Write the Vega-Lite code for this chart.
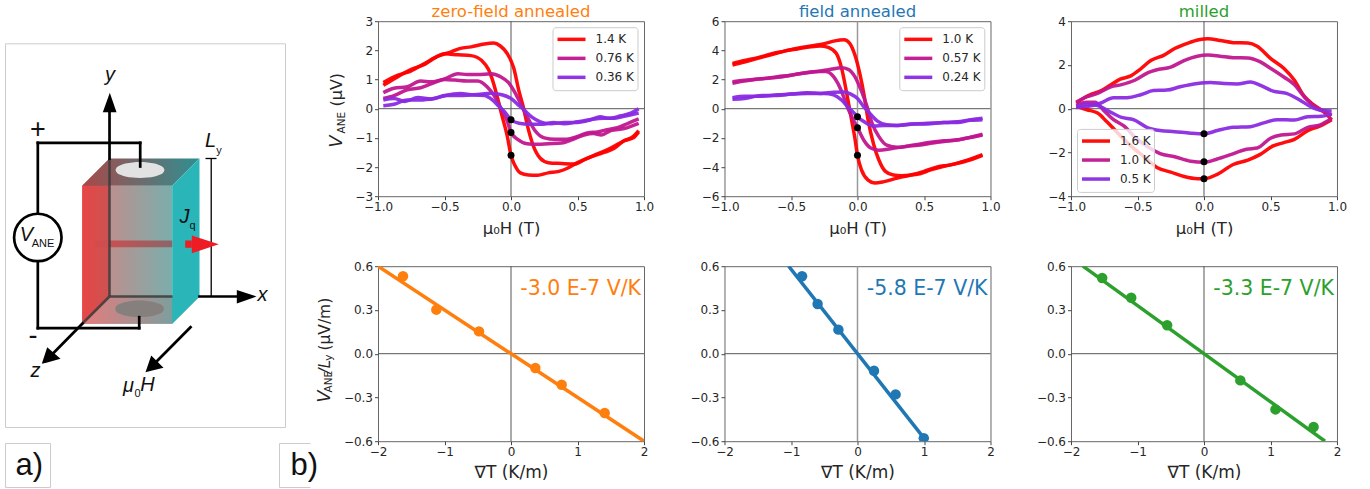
{"$schema":"https://vega.github.io/schema/vega-lite/v6.json","background":"white","padding":{"left":-1.5,"top":3.2,"right":0,"bottom":0},"config":{"font":"DejaVu Sans","axis":{"labelFont":"DejaVu Sans","labelFontSize":12,"labelColor":"#262626","labelFlush":false,"labelOverlap":false,"labelBound":false,"tickColor":"#444","tickSize":3.5,"tickWidth":1,"domain":false,"grid":false,"titleFont":"DejaVu Sans","titleFontWeight":"normal","titleFontSize":16.5,"titleColor":"#262626","titlePadding":8},"view":{"stroke":"#666","strokeWidth":1},"legend":{"labelFont":"DejaVu Sans","labelFontSize":12,"labelColor":"#262626"},"title":{"font":"DejaVu Sans","fontWeight":"normal","fontSize":16.5,"anchor":"middle","offset":-5}},
"datasets":{
"zero":[{"z":0}],
"frames":[{"x":6,"x2":286,"y":43.3,"y2":427},{"x":6,"x2":51,"y":443,"y2":487}],
"bbox":[{"x":280,"x2":311,"y":443,"y2":443},{"x":280,"x2":280,"y":443,"y2":487},{"x":280,"x2":311,"y":487,"y2":487}],
"front":[{"x":82.7,"x2":172.7,"y":185.3,"y2":323.3}],
"left":[{"x":82.7,"y":185.3,"y2":323.3},{"x":110,"y":158,"y2":296}],
"top":[{"x":82.7,"y":185.3,"y2":185.3},{"x":110,"y":158,"y2":185.3},{"x":172.7,"y":158,"y2":185.3},{"x":200,"y":158,"y2":158}],
"bottom":[{"x":82.7,"y":323.3,"y2":323.3},{"x":110,"y":296,"y2":323.3},{"x":172.7,"y":296,"y2":323.3},{"x":200,"y":296,"y2":296}],
"right":[{"x":172.7,"y":185.3,"y2":323.3},{"x":200,"y":158,"y2":296}],
"strip":[{"x":94.3,"x2":172.7,"y":240,"y2":246.7}],
"edges":[{"x":110,"y":158,"x2":110,"y2":296},{"x":110,"y":296,"x2":173,"y2":296},{"x":110,"y":296,"x2":83,"y2":323}],
"ewhite":[{"x":116,"y":169.5,"y2":169.5},{"x":117.2,"y":167,"y2":172},{"x":120.9,"y":164.7,"y2":174.3},{"x":125.8,"y":163.1,"y2":175.9},{"x":133.2,"y":161.9,"y2":177.1},{"x":140.5,"y":161.5,"y2":177.5},{"x":147.9,"y":161.9,"y2":177.1},{"x":155.2,"y":163.1,"y2":175.9},{"x":160.1,"y":164.7,"y2":174.3},{"x":163.8,"y":167,"y2":172},{"x":165,"y":169.5,"y2":169.5}],
"egrey":[{"x":115.5,"y":308.3,"y2":308.3},{"x":116.7,"y":305.7,"y2":310.9},{"x":120.4,"y":303.3,"y2":313.3},{"x":125.3,"y":301.7,"y2":314.9},{"x":132.7,"y":300.4,"y2":316.2},{"x":140,"y":300,"y2":316.6},{"x":147.4,"y":300.4,"y2":316.2},{"x":154.7,"y":301.7,"y2":314.9},{"x":159.6,"y":303.3,"y2":313.3},{"x":163.3,"y":305.7,"y2":310.9},{"x":164.5,"y":308.3,"y2":308.3}],
"wires":[{"x":38.3,"y":142.3,"x2":140.7,"y2":142.3},{"x":140.7,"y":142.3,"x2":140.7,"y2":166},{"x":38.3,"y":142.3,"x2":38.3,"y2":213},{"x":38.3,"y":261,"x2":38.3,"y2":327.7},{"x":38.3,"y":327.7,"x2":139.7,"y2":327.7},{"x":139.7,"y":327.7,"x2":139.7,"y2":316.7},{"x":110,"y":158,"x2":110,"y2":108},{"x":200,"y":296,"x2":240,"y2":296},{"x":83,"y":323,"x2":50,"y2":356.5},{"x":191,"y":326.7,"x2":155,"y2":363}],
"brack":[{"x":211.7,"y":158,"x2":211.7,"y2":296},{"x":206,"y":158,"x2":217,"y2":158}],
"heads":[{"id":"y","x":103.3,"y":111.7,"y2":111.7},{"id":"y","x":110.3,"y":92.3,"y2":111.7},{"id":"y","x":117,"y":111.7,"y2":111.7},{"id":"x","x":237.3,"y":289.5,"y2":303},{"id":"x","x":257,"y":296,"y2":296},{"id":"z","x":42.3,"y":363.3,"y2":363.3},{"id":"z","x":47.7,"y":346.7,"y2":361.9},{"id":"z","x":61,"y":358.3,"y2":358.3},{"id":"h","x":146,"y":371.7,"y2":371.7},{"id":"h","x":151.7,"y":355,"y2":370.3},{"id":"h","x":164,"y":367.3,"y2":367.3}],
"rhead":[{"x":192.3,"y":235,"y2":252.7},{"x":219.3,"y":243.7,"y2":243.7}],
"rshaft":[{"x":185.7,"x2":192.3,"y":240,"y2":247.3}],
"volt":[{"x":38.3,"y":237}],
"tital":[{"x":110.5,"y":75,"t":"y"},{"x":263,"y":295,"t":"x"},{"x":36,"y":371,"t":"z"},{"x":27,"y":235,"t":"V"},{"x":185,"y":217,"t":"J"},{"x":211,"y":141,"t":"L"},{"x":129,"y":386,"t":"μ"},{"x":148,"y":385,"t":"H"}],
"tsub":[{"x":43.5,"y":243.5,"t":"ANE"},{"x":219.5,"y":151,"t":"y"},{"x":193,"y":226,"t":"q"},{"x":138,"y":393.5,"t":"0"}],
"tsign":[{"x":38.3,"y":130,"t":"+"},{"x":33.5,"y":336,"t":"-"}],
"tlab":[{"x":16,"y":475,"t":"a)"},{"x":291,"y":475,"t":"b)"}],
"d1":[
{"T":"1.4 K","b":"a","H":-0.96,"V":0.9},{"T":"1.4 K","b":"a","H":-0.85,"V":1.15},{"T":"1.4 K","b":"a","H":-0.75,"V":1.3},{"T":"1.4 K","b":"a","H":-0.65,"V":1.55},{"T":"1.4 K","b":"a","H":-0.55,"V":1.8},{"T":"1.4 K","b":"a","H":-0.45,"V":1.95},{"T":"1.4 K","b":"a","H":-0.38,"V":2.07},{"T":"1.4 K","b":"a","H":-0.3,"V":2.12},{"T":"1.4 K","b":"a","H":-0.2,"V":2.22},{"T":"1.4 K","b":"a","H":-0.13,"V":2.25},{"T":"1.4 K","b":"a","H":-0.08,"V":2.15},{"T":"1.4 K","b":"a","H":-0.03,"V":1.9},{"T":"1.4 K","b":"a","H":0.02,"V":1.4},{"T":"1.4 K","b":"a","H":0.06,"V":0.6},{"T":"1.4 K","b":"a","H":0.09,"V":0.1},{"T":"1.4 K","b":"a","H":0.13,"V":-0.7},{"T":"1.4 K","b":"a","H":0.17,"V":-1.3},{"T":"1.4 K","b":"a","H":0.22,"V":-1.7},{"T":"1.4 K","b":"a","H":0.28,"V":-1.85},{"T":"1.4 K","b":"a","H":0.38,"V":-1.88},{"T":"1.4 K","b":"a","H":0.48,"V":-1.9},{"T":"1.4 K","b":"a","H":0.55,"V":-1.75},{"T":"1.4 K","b":"a","H":0.65,"V":-1.55},{"T":"1.4 K","b":"a","H":0.75,"V":-1.35},{"T":"1.4 K","b":"a","H":0.85,"V":-1.1},{"T":"1.4 K","b":"a","H":0.92,"V":-0.95},{"T":"1.4 K","b":"a","H":0.96,"V":-0.75},
{"T":"1.4 K","b":"b","H":-0.96,"V":0.8},{"T":"1.4 K","b":"b","H":-0.85,"V":1.1},{"T":"1.4 K","b":"b","H":-0.75,"V":1.35},{"T":"1.4 K","b":"b","H":-0.65,"V":1.52},{"T":"1.4 K","b":"b","H":-0.57,"V":1.75},{"T":"1.4 K","b":"b","H":-0.5,"V":1.88},{"T":"1.4 K","b":"b","H":-0.4,"V":1.85},{"T":"1.4 K","b":"b","H":-0.3,"V":1.82},{"T":"1.4 K","b":"b","H":-0.22,"V":1.65},{"T":"1.4 K","b":"b","H":-0.17,"V":1.35},{"T":"1.4 K","b":"b","H":-0.13,"V":0.85},{"T":"1.4 K","b":"b","H":-0.1,"V":0.35},{"T":"1.4 K","b":"b","H":-0.07,"V":-0.2},{"T":"1.4 K","b":"b","H":-0.03,"V":-0.9},{"T":"1.4 K","b":"b","H":0,"V":-1.6},{"T":"1.4 K","b":"b","H":0.03,"V":-1.95},{"T":"1.4 K","b":"b","H":0.07,"V":-2.2},{"T":"1.4 K","b":"b","H":0.13,"V":-2.27},{"T":"1.4 K","b":"b","H":0.2,"V":-2.28},{"T":"1.4 K","b":"b","H":0.28,"V":-2.2},{"T":"1.4 K","b":"b","H":0.36,"V":-2.15},{"T":"1.4 K","b":"b","H":0.42,"V":-2.05},{"T":"1.4 K","b":"b","H":0.5,"V":-1.85},{"T":"1.4 K","b":"b","H":0.6,"V":-1.65},{"T":"1.4 K","b":"b","H":0.7,"V":-1.5},{"T":"1.4 K","b":"b","H":0.78,"V":-1.35},{"T":"1.4 K","b":"b","H":0.85,"V":-1.1},{"T":"1.4 K","b":"b","H":0.92,"V":-1.0},{"T":"1.4 K","b":"b","H":0.96,"V":-0.8},
{"T":"0.76 K","b":"a","H":-0.96,"V":0.55},{"T":"0.76 K","b":"a","H":-0.88,"V":0.7},{"T":"0.76 K","b":"a","H":-0.78,"V":0.75},{"T":"0.76 K","b":"a","H":-0.68,"V":0.95},{"T":"0.76 K","b":"a","H":-0.6,"V":0.92},{"T":"0.76 K","b":"a","H":-0.5,"V":1.02},{"T":"0.76 K","b":"a","H":-0.4,"V":1.2},{"T":"0.76 K","b":"a","H":-0.33,"V":1.17},{"T":"0.76 K","b":"a","H":-0.25,"V":1.17},{"T":"0.76 K","b":"a","H":-0.15,"V":1.2},{"T":"0.76 K","b":"a","H":-0.08,"V":1.1},{"T":"0.76 K","b":"a","H":-0.02,"V":0.9},{"T":"0.76 K","b":"a","H":0.03,"V":0.55},{"T":"0.76 K","b":"a","H":0.08,"V":0.1},{"T":"0.76 K","b":"a","H":0.13,"V":-0.35},{"T":"0.76 K","b":"a","H":0.18,"V":-0.75},{"T":"0.76 K","b":"a","H":0.25,"V":-1.0},{"T":"0.76 K","b":"a","H":0.33,"V":-1.05},{"T":"0.76 K","b":"a","H":0.42,"V":-1.05},{"T":"0.76 K","b":"a","H":0.5,"V":-0.95},{"T":"0.76 K","b":"a","H":0.58,"V":-0.82},{"T":"0.76 K","b":"a","H":0.65,"V":-0.8},{"T":"0.76 K","b":"a","H":0.72,"V":-0.72},{"T":"0.76 K","b":"a","H":0.8,"V":-0.65},{"T":"0.76 K","b":"a","H":0.88,"V":-0.5},{"T":"0.76 K","b":"a","H":0.96,"V":-0.35},
{"T":"0.76 K","b":"b","H":-0.96,"V":0.35},{"T":"0.76 K","b":"b","H":-0.88,"V":0.45},{"T":"0.76 K","b":"b","H":-0.78,"V":0.65},{"T":"0.76 K","b":"b","H":-0.68,"V":0.72},{"T":"0.76 K","b":"b","H":-0.6,"V":0.85},{"T":"0.76 K","b":"b","H":-0.5,"V":1.0},{"T":"0.76 K","b":"b","H":-0.42,"V":0.98},{"T":"0.76 K","b":"b","H":-0.33,"V":0.95},{"T":"0.76 K","b":"b","H":-0.25,"V":0.95},{"T":"0.76 K","b":"b","H":-0.18,"V":0.75},{"T":"0.76 K","b":"b","H":-0.12,"V":0.4},{"T":"0.76 K","b":"b","H":-0.08,"V":0.05},{"T":"0.76 K","b":"b","H":-0.03,"V":-0.4},{"T":"0.76 K","b":"b","H":0,"V":-0.82},{"T":"0.76 K","b":"b","H":0.05,"V":-1.05},{"T":"0.76 K","b":"b","H":0.12,"V":-1.2},{"T":"0.76 K","b":"b","H":0.2,"V":-1.22},{"T":"0.76 K","b":"b","H":0.28,"V":-1.2},{"T":"0.76 K","b":"b","H":0.38,"V":-1.18},{"T":"0.76 K","b":"b","H":0.45,"V":-1.08},{"T":"0.76 K","b":"b","H":0.55,"V":-0.9},{"T":"0.76 K","b":"b","H":0.62,"V":-0.85},{"T":"0.76 K","b":"b","H":0.68,"V":-0.9},{"T":"0.76 K","b":"b","H":0.75,"V":-0.75},{"T":"0.76 K","b":"b","H":0.85,"V":-0.68},{"T":"0.76 K","b":"b","H":0.96,"V":-0.5},
{"T":"0.36 K","b":"a","H":-0.96,"V":0.3},{"T":"0.36 K","b":"a","H":-0.88,"V":0.35},{"T":"0.36 K","b":"a","H":-0.8,"V":0.25},{"T":"0.36 K","b":"a","H":-0.7,"V":0.38},{"T":"0.36 K","b":"a","H":-0.6,"V":0.33},{"T":"0.36 K","b":"a","H":-0.5,"V":0.45},{"T":"0.36 K","b":"a","H":-0.38,"V":0.52},{"T":"0.36 K","b":"a","H":-0.28,"V":0.48},{"T":"0.36 K","b":"a","H":-0.15,"V":0.53},{"T":"0.36 K","b":"a","H":-0.07,"V":0.48},{"T":"0.36 K","b":"a","H":0,"V":0.35},{"T":"0.36 K","b":"a","H":0.05,"V":0.15},{"T":"0.36 K","b":"a","H":0.1,"V":-0.05},{"T":"0.36 K","b":"a","H":0.16,"V":-0.3},{"T":"0.36 K","b":"a","H":0.22,"V":-0.45},{"T":"0.36 K","b":"a","H":0.3,"V":-0.52},{"T":"0.36 K","b":"a","H":0.4,"V":-0.47},{"T":"0.36 K","b":"a","H":0.5,"V":-0.47},{"T":"0.36 K","b":"a","H":0.6,"V":-0.38},{"T":"0.36 K","b":"a","H":0.67,"V":-0.28},{"T":"0.36 K","b":"a","H":0.74,"V":-0.33},{"T":"0.36 K","b":"a","H":0.82,"V":-0.25},{"T":"0.36 K","b":"a","H":0.9,"V":-0.15},{"T":"0.36 K","b":"a","H":0.96,"V":0.0},
{"T":"0.36 K","b":"b","H":-0.96,"V":0.1},{"T":"0.36 K","b":"b","H":-0.88,"V":0.15},{"T":"0.36 K","b":"b","H":-0.78,"V":0.3},{"T":"0.36 K","b":"b","H":-0.68,"V":0.3},{"T":"0.36 K","b":"b","H":-0.58,"V":0.35},{"T":"0.36 K","b":"b","H":-0.48,"V":0.45},{"T":"0.36 K","b":"b","H":-0.38,"V":0.45},{"T":"0.36 K","b":"b","H":-0.28,"V":0.47},{"T":"0.36 K","b":"b","H":-0.2,"V":0.45},{"T":"0.36 K","b":"b","H":-0.14,"V":0.3},{"T":"0.36 K","b":"b","H":-0.09,"V":0.08},{"T":"0.36 K","b":"b","H":-0.04,"V":-0.15},{"T":"0.36 K","b":"b","H":0,"V":-0.38},{"T":"0.36 K","b":"b","H":0.06,"V":-0.5},{"T":"0.36 K","b":"b","H":0.14,"V":-0.53},{"T":"0.36 K","b":"b","H":0.24,"V":-0.53},{"T":"0.36 K","b":"b","H":0.32,"V":-0.47},{"T":"0.36 K","b":"b","H":0.4,"V":-0.52},{"T":"0.36 K","b":"b","H":0.5,"V":-0.45},{"T":"0.36 K","b":"b","H":0.6,"V":-0.37},{"T":"0.36 K","b":"b","H":0.7,"V":-0.33},{"T":"0.36 K","b":"b","H":0.78,"V":-0.33},{"T":"0.36 K","b":"b","H":0.86,"V":-0.25},{"T":"0.36 K","b":"b","H":0.96,"V":-0.15}],
"dots1":[{"H":0,"V":-0.38},{"H":0,"V":-0.82},{"H":0,"V":-1.6}],
"d2":[
{"T":"1.0 K","b":"a","H":-0.94,"V":3.1},{"T":"1.0 K","b":"a","H":-0.85,"V":3.3},{"T":"1.0 K","b":"a","H":-0.75,"V":3.5},{"T":"1.0 K","b":"a","H":-0.65,"V":3.75},{"T":"1.0 K","b":"a","H":-0.55,"V":3.95},{"T":"1.0 K","b":"a","H":-0.45,"V":4.15},{"T":"1.0 K","b":"a","H":-0.35,"V":4.3},{"T":"1.0 K","b":"a","H":-0.25,"V":4.45},{"T":"1.0 K","b":"a","H":-0.17,"V":4.65},{"T":"1.0 K","b":"a","H":-0.1,"V":4.72},{"T":"1.0 K","b":"a","H":-0.06,"V":4.5},{"T":"1.0 K","b":"a","H":-0.02,"V":3.7},{"T":"1.0 K","b":"a","H":0.02,"V":2.3},{"T":"1.0 K","b":"a","H":0.05,"V":0.9},{"T":"1.0 K","b":"a","H":0.08,"V":-0.8},{"T":"1.0 K","b":"a","H":0.12,"V":-2.4},{"T":"1.0 K","b":"a","H":0.16,"V":-3.5},{"T":"1.0 K","b":"a","H":0.21,"V":-4.3},{"T":"1.0 K","b":"a","H":0.27,"V":-4.55},{"T":"1.0 K","b":"a","H":0.33,"V":-4.6},{"T":"1.0 K","b":"a","H":0.45,"V":-4.5},{"T":"1.0 K","b":"a","H":0.55,"V":-4.2},{"T":"1.0 K","b":"a","H":0.65,"V":-3.95},{"T":"1.0 K","b":"a","H":0.75,"V":-3.75},{"T":"1.0 K","b":"a","H":0.85,"V":-3.5},{"T":"1.0 K","b":"a","H":0.94,"V":-3.2},
{"T":"1.0 K","b":"b","H":-0.94,"V":3.0},{"T":"1.0 K","b":"b","H":-0.85,"V":3.2},{"T":"1.0 K","b":"b","H":-0.75,"V":3.45},{"T":"1.0 K","b":"b","H":-0.65,"V":3.7},{"T":"1.0 K","b":"b","H":-0.55,"V":3.95},{"T":"1.0 K","b":"b","H":-0.45,"V":4.1},{"T":"1.0 K","b":"b","H":-0.35,"V":4.25},{"T":"1.0 K","b":"b","H":-0.28,"V":4.3},{"T":"1.0 K","b":"b","H":-0.22,"V":4.2},{"T":"1.0 K","b":"b","H":-0.16,"V":3.8},{"T":"1.0 K","b":"b","H":-0.12,"V":2.8},{"T":"1.0 K","b":"b","H":-0.08,"V":1.0},{"T":"1.0 K","b":"b","H":-0.05,"V":-0.5},{"T":"1.0 K","b":"b","H":-0.02,"V":-2},{"T":"1.0 K","b":"b","H":0,"V":-3.2},{"T":"1.0 K","b":"b","H":0.03,"V":-4.2},{"T":"1.0 K","b":"b","H":0.08,"V":-4.9},{"T":"1.0 K","b":"b","H":0.13,"V":-5.1},{"T":"1.0 K","b":"b","H":0.2,"V":-5.0},{"T":"1.0 K","b":"b","H":0.3,"V":-4.75},{"T":"1.0 K","b":"b","H":0.4,"V":-4.55},{"T":"1.0 K","b":"b","H":0.5,"V":-4.3},{"T":"1.0 K","b":"b","H":0.6,"V":-4.0},{"T":"1.0 K","b":"b","H":0.7,"V":-3.85},{"T":"1.0 K","b":"b","H":0.8,"V":-3.6},{"T":"1.0 K","b":"b","H":0.94,"V":-3.15},
{"T":"0.57 K","b":"a","H":-0.94,"V":1.85},{"T":"0.57 K","b":"a","H":-0.85,"V":1.95},{"T":"0.57 K","b":"a","H":-0.72,"V":2.05},{"T":"0.57 K","b":"a","H":-0.6,"V":2.2},{"T":"0.57 K","b":"a","H":-0.5,"V":2.3},{"T":"0.57 K","b":"a","H":-0.4,"V":2.45},{"T":"0.57 K","b":"a","H":-0.3,"V":2.55},{"T":"0.57 K","b":"a","H":-0.2,"V":2.7},{"T":"0.57 K","b":"a","H":-0.12,"V":2.8},{"T":"0.57 K","b":"a","H":-0.07,"V":2.7},{"T":"0.57 K","b":"a","H":-0.02,"V":2.2},{"T":"0.57 K","b":"a","H":0.03,"V":1.2},{"T":"0.57 K","b":"a","H":0.07,"V":0.2},{"T":"0.57 K","b":"a","H":0.11,"V":-1},{"T":"0.57 K","b":"a","H":0.16,"V":-1.9},{"T":"0.57 K","b":"a","H":0.22,"V":-2.5},{"T":"0.57 K","b":"a","H":0.3,"V":-2.65},{"T":"0.57 K","b":"a","H":0.4,"V":-2.55},{"T":"0.57 K","b":"a","H":0.5,"V":-2.45},{"T":"0.57 K","b":"a","H":0.6,"V":-2.3},{"T":"0.57 K","b":"a","H":0.7,"V":-2.2},{"T":"0.57 K","b":"a","H":0.8,"V":-2.05},{"T":"0.57 K","b":"a","H":0.94,"V":-1.8},
{"T":"0.57 K","b":"b","H":-0.94,"V":1.75},{"T":"0.57 K","b":"b","H":-0.85,"V":1.9},{"T":"0.57 K","b":"b","H":-0.72,"V":2.05},{"T":"0.57 K","b":"b","H":-0.6,"V":2.15},{"T":"0.57 K","b":"b","H":-0.5,"V":2.3},{"T":"0.57 K","b":"b","H":-0.4,"V":2.45},{"T":"0.57 K","b":"b","H":-0.3,"V":2.55},{"T":"0.57 K","b":"b","H":-0.24,"V":2.55},{"T":"0.57 K","b":"b","H":-0.18,"V":2.2},{"T":"0.57 K","b":"b","H":-0.12,"V":1.2},{"T":"0.57 K","b":"b","H":-0.08,"V":0.2},{"T":"0.57 K","b":"b","H":-0.04,"V":-0.6},{"T":"0.57 K","b":"b","H":0,"V":-1.3},{"T":"0.57 K","b":"b","H":0.05,"V":-2.2},{"T":"0.57 K","b":"b","H":0.1,"V":-2.7},{"T":"0.57 K","b":"b","H":0.16,"V":-2.85},{"T":"0.57 K","b":"b","H":0.25,"V":-2.75},{"T":"0.57 K","b":"b","H":0.35,"V":-2.6},{"T":"0.57 K","b":"b","H":0.45,"V":-2.45},{"T":"0.57 K","b":"b","H":0.55,"V":-2.3},{"T":"0.57 K","b":"b","H":0.65,"V":-2.2},{"T":"0.57 K","b":"b","H":0.75,"V":-2.15},{"T":"0.57 K","b":"b","H":0.85,"V":-1.95},{"T":"0.57 K","b":"b","H":0.94,"V":-1.75},
{"T":"0.24 K","b":"a","H":-0.94,"V":0.75},{"T":"0.24 K","b":"a","H":-0.85,"V":0.85},{"T":"0.24 K","b":"a","H":-0.72,"V":0.85},{"T":"0.24 K","b":"a","H":-0.6,"V":0.95},{"T":"0.24 K","b":"a","H":-0.5,"V":1.0},{"T":"0.24 K","b":"a","H":-0.38,"V":1.1},{"T":"0.24 K","b":"a","H":-0.28,"V":1.05},{"T":"0.24 K","b":"a","H":-0.18,"V":1.13},{"T":"0.24 K","b":"a","H":-0.1,"V":1.15},{"T":"0.24 K","b":"a","H":-0.05,"V":1.0},{"T":"0.24 K","b":"a","H":0,"V":0.7},{"T":"0.24 K","b":"a","H":0.05,"V":0.1},{"T":"0.24 K","b":"a","H":0.1,"V":-0.4},{"T":"0.24 K","b":"a","H":0.15,"V":-0.85},{"T":"0.24 K","b":"a","H":0.22,"V":-1.1},{"T":"0.24 K","b":"a","H":0.3,"V":-1.15},{"T":"0.24 K","b":"a","H":0.42,"V":-1.05},{"T":"0.24 K","b":"a","H":0.52,"V":-1.0},{"T":"0.24 K","b":"a","H":0.65,"V":-0.95},{"T":"0.24 K","b":"a","H":0.75,"V":-0.9},{"T":"0.24 K","b":"a","H":0.85,"V":-0.75},{"T":"0.24 K","b":"a","H":0.94,"V":-0.65},
{"T":"0.24 K","b":"b","H":-0.94,"V":0.65},{"T":"0.24 K","b":"b","H":-0.85,"V":0.7},{"T":"0.24 K","b":"b","H":-0.72,"V":0.9},{"T":"0.24 K","b":"b","H":-0.6,"V":0.9},{"T":"0.24 K","b":"b","H":-0.5,"V":1.0},{"T":"0.24 K","b":"b","H":-0.38,"V":1.05},{"T":"0.24 K","b":"b","H":-0.25,"V":1.05},{"T":"0.24 K","b":"b","H":-0.18,"V":0.95},{"T":"0.24 K","b":"b","H":-0.12,"V":0.6},{"T":"0.24 K","b":"b","H":-0.07,"V":0.1},{"T":"0.24 K","b":"b","H":-0.03,"V":-0.25},{"T":"0.24 K","b":"b","H":0,"V":-0.55},{"T":"0.24 K","b":"b","H":0.05,"V":-0.9},{"T":"0.24 K","b":"b","H":0.12,"V":-1.2},{"T":"0.24 K","b":"b","H":0.2,"V":-1.15},{"T":"0.24 K","b":"b","H":0.3,"V":-1.15},{"T":"0.24 K","b":"b","H":0.4,"V":-1.05},{"T":"0.24 K","b":"b","H":0.52,"V":-1.05},{"T":"0.24 K","b":"b","H":0.65,"V":-0.95},{"T":"0.24 K","b":"b","H":0.75,"V":-0.95},{"T":"0.24 K","b":"b","H":0.85,"V":-0.8},{"T":"0.24 K","b":"b","H":0.94,"V":-0.75}],
"dots2":[{"H":0,"V":-0.55},{"H":0,"V":-1.3},{"H":0,"V":-3.2}],
"d3":[
{"T":"1.6 K","b":"a","H":-0.96,"V":0.25},{"T":"1.6 K","b":"a","H":-0.9,"V":0.5},{"T":"1.6 K","b":"a","H":-0.85,"V":0.65},{"T":"1.6 K","b":"a","H":-0.78,"V":0.8},{"T":"1.6 K","b":"a","H":-0.7,"V":1.1},{"T":"1.6 K","b":"a","H":-0.63,"V":1.35},{"T":"1.6 K","b":"a","H":-0.55,"V":1.5},{"T":"1.6 K","b":"a","H":-0.48,"V":1.8},{"T":"1.6 K","b":"a","H":-0.4,"V":2.2},{"T":"1.6 K","b":"a","H":-0.3,"V":2.45},{"T":"1.6 K","b":"a","H":-0.22,"V":2.75},{"T":"1.6 K","b":"a","H":-0.12,"V":3.0},{"T":"1.6 K","b":"a","H":-0.04,"V":3.15},{"T":"1.6 K","b":"a","H":0.03,"V":3.2},{"T":"1.6 K","b":"a","H":0.12,"V":3.12},{"T":"1.6 K","b":"a","H":0.22,"V":3.02},{"T":"1.6 K","b":"a","H":0.33,"V":3.0},{"T":"1.6 K","b":"a","H":0.4,"V":2.85},{"T":"1.6 K","b":"a","H":0.5,"V":2.3},{"T":"1.6 K","b":"a","H":0.6,"V":1.85},{"T":"1.6 K","b":"a","H":0.68,"V":1.3},{"T":"1.6 K","b":"a","H":0.75,"V":0.6},{"T":"1.6 K","b":"a","H":0.82,"V":0.2},{"T":"1.6 K","b":"a","H":0.9,"V":-0.15},{"T":"1.6 K","b":"a","H":0.96,"V":-0.5},
{"T":"1.6 K","b":"b","H":-0.96,"V":0.1},{"T":"1.6 K","b":"b","H":-0.88,"V":-0.05},{"T":"1.6 K","b":"b","H":-0.8,"V":-0.2},{"T":"1.6 K","b":"b","H":-0.73,"V":-0.6},{"T":"1.6 K","b":"b","H":-0.65,"V":-1.1},{"T":"1.6 K","b":"b","H":-0.55,"V":-1.7},{"T":"1.6 K","b":"b","H":-0.45,"V":-2.2},{"T":"1.6 K","b":"b","H":-0.35,"V":-2.7},{"T":"1.6 K","b":"b","H":-0.25,"V":-2.9},{"T":"1.6 K","b":"b","H":-0.15,"V":-3.1},{"T":"1.6 K","b":"b","H":-0.05,"V":-3.2},{"T":"1.6 K","b":"b","H":0,"V":-3.2},{"T":"1.6 K","b":"b","H":0.1,"V":-3.0},{"T":"1.6 K","b":"b","H":0.22,"V":-2.55},{"T":"1.6 K","b":"b","H":0.33,"V":-2.35},{"T":"1.6 K","b":"b","H":0.42,"V":-2.1},{"T":"1.6 K","b":"b","H":0.52,"V":-1.7},{"T":"1.6 K","b":"b","H":0.6,"V":-1.55},{"T":"1.6 K","b":"b","H":0.68,"V":-1.4},{"T":"1.6 K","b":"b","H":0.78,"V":-1.0},{"T":"1.6 K","b":"b","H":0.87,"V":-0.8},{"T":"1.6 K","b":"b","H":0.96,"V":-0.5},
{"T":"1.0 K","b":"a","H":-0.96,"V":0.3},{"T":"1.0 K","b":"a","H":-0.88,"V":0.55},{"T":"1.0 K","b":"a","H":-0.8,"V":0.7},{"T":"1.0 K","b":"a","H":-0.7,"V":1.0},{"T":"1.0 K","b":"a","H":-0.62,"V":1.1},{"T":"1.0 K","b":"a","H":-0.52,"V":1.3},{"T":"1.0 K","b":"a","H":-0.42,"V":1.65},{"T":"1.0 K","b":"a","H":-0.36,"V":1.77},{"T":"1.0 K","b":"a","H":-0.25,"V":1.9},{"T":"1.0 K","b":"a","H":-0.15,"V":2.2},{"T":"1.0 K","b":"a","H":-0.05,"V":2.4},{"T":"1.0 K","b":"a","H":0.03,"V":2.45},{"T":"1.0 K","b":"a","H":0.12,"V":2.4},{"T":"1.0 K","b":"a","H":0.22,"V":2.33},{"T":"1.0 K","b":"a","H":0.33,"V":2.32},{"T":"1.0 K","b":"a","H":0.42,"V":2.15},{"T":"1.0 K","b":"a","H":0.5,"V":1.85},{"T":"1.0 K","b":"a","H":0.6,"V":1.45},{"T":"1.0 K","b":"a","H":0.68,"V":1.1},{"T":"1.0 K","b":"a","H":0.76,"V":0.5},{"T":"1.0 K","b":"a","H":0.83,"V":0.1},{"T":"1.0 K","b":"a","H":0.9,"V":-0.1},{"T":"1.0 K","b":"a","H":0.96,"V":-0.3},
{"T":"1.0 K","b":"b","H":-0.96,"V":0.15},{"T":"1.0 K","b":"b","H":-0.88,"V":0.3},{"T":"1.0 K","b":"b","H":-0.82,"V":0.3},{"T":"1.0 K","b":"b","H":-0.75,"V":-0.1},{"T":"1.0 K","b":"b","H":-0.68,"V":-0.5},{"T":"1.0 K","b":"b","H":-0.6,"V":-0.8},{"T":"1.0 K","b":"b","H":-0.52,"V":-1.3},{"T":"1.0 K","b":"b","H":-0.42,"V":-1.75},{"T":"1.0 K","b":"b","H":-0.33,"V":-2.05},{"T":"1.0 K","b":"b","H":-0.22,"V":-2.2},{"T":"1.0 K","b":"b","H":-0.1,"V":-2.4},{"T":"1.0 K","b":"b","H":0,"V":-2.45},{"T":"1.0 K","b":"b","H":0.1,"V":-2.3},{"T":"1.0 K","b":"b","H":0.2,"V":-2.1},{"T":"1.0 K","b":"b","H":0.32,"V":-1.85},{"T":"1.0 K","b":"b","H":0.4,"V":-1.8},{"T":"1.0 K","b":"b","H":0.5,"V":-1.35},{"T":"1.0 K","b":"b","H":0.58,"V":-1.2},{"T":"1.0 K","b":"b","H":0.68,"V":-1.15},{"T":"1.0 K","b":"b","H":0.78,"V":-0.85},{"T":"1.0 K","b":"b","H":0.87,"V":-0.75},{"T":"1.0 K","b":"b","H":0.96,"V":-0.45},
{"T":"0.5 K","b":"a","H":-0.96,"V":0.05},{"T":"0.5 K","b":"a","H":-0.88,"V":0.1},{"T":"0.5 K","b":"a","H":-0.78,"V":0.25},{"T":"0.5 K","b":"a","H":-0.68,"V":0.5},{"T":"0.5 K","b":"a","H":-0.58,"V":0.5},{"T":"0.5 K","b":"a","H":-0.47,"V":0.65},{"T":"0.5 K","b":"a","H":-0.38,"V":0.83},{"T":"0.5 K","b":"a","H":-0.28,"V":0.85},{"T":"0.5 K","b":"a","H":-0.18,"V":1.0},{"T":"0.5 K","b":"a","H":-0.05,"V":1.15},{"T":"0.5 K","b":"a","H":0.05,"V":1.2},{"T":"0.5 K","b":"a","H":0.15,"V":1.15},{"T":"0.5 K","b":"a","H":0.25,"V":1.13},{"T":"0.5 K","b":"a","H":0.35,"V":1.22},{"T":"0.5 K","b":"a","H":0.43,"V":1.05},{"T":"0.5 K","b":"a","H":0.52,"V":0.8},{"T":"0.5 K","b":"a","H":0.62,"V":0.7},{"T":"0.5 K","b":"a","H":0.72,"V":0.4},{"T":"0.5 K","b":"a","H":0.8,"V":0.1},{"T":"0.5 K","b":"a","H":0.88,"V":-0.08},{"T":"0.5 K","b":"a","H":0.96,"V":-0.1},
{"T":"0.5 K","b":"b","H":-0.96,"V":0.1},{"T":"0.5 K","b":"b","H":-0.88,"V":0.2},{"T":"0.5 K","b":"b","H":-0.8,"V":0.15},{"T":"0.5 K","b":"b","H":-0.72,"V":-0.1},{"T":"0.5 K","b":"b","H":-0.62,"V":-0.4},{"T":"0.5 K","b":"b","H":-0.53,"V":-0.5},{"T":"0.5 K","b":"b","H":-0.43,"V":-0.85},{"T":"0.5 K","b":"b","H":-0.33,"V":-1.0},{"T":"0.5 K","b":"b","H":-0.22,"V":-1.05},{"T":"0.5 K","b":"b","H":-0.1,"V":-1.12},{"T":"0.5 K","b":"b","H":0,"V":-1.15},{"T":"0.5 K","b":"b","H":0.1,"V":-1.0},{"T":"0.5 K","b":"b","H":0.22,"V":-0.85},{"T":"0.5 K","b":"b","H":0.35,"V":-0.82},{"T":"0.5 K","b":"b","H":0.45,"V":-0.65},{"T":"0.5 K","b":"b","H":0.55,"V":-0.5},{"T":"0.5 K","b":"b","H":0.68,"V":-0.52},{"T":"0.5 K","b":"b","H":0.78,"V":-0.37},{"T":"0.5 K","b":"b","H":0.88,"V":-0.35},{"T":"0.5 K","b":"b","H":0.96,"V":-0.25}],
"dots3":[{"H":0,"V":-1.15},{"H":0,"V":-2.42},{"H":0,"V":-3.2}],
"f1":[{"G":-2,"E":0.6},{"G":2,"E":-0.6}],
"s1":[{"G":-1.624,"E":0.531},{"G":-1.123,"E":0.302},{"G":-0.481,"E":0.153},{"G":0.366,"E":-0.098},{"G":0.762,"E":-0.213},{"G":1.409,"E":-0.407}],
"f2":[{"G":-1.035,"E":0.6},{"G":1.035,"E":-0.6}],
"s2":[{"G":-0.834,"E":0.531},{"G":-0.6,"E":0.341},{"G":-0.287,"E":0.165},{"G":0.248,"E":-0.117},{"G":0.573,"E":-0.279},{"G":0.997,"E":-0.579}],
"f3":[{"G":-1.82,"E":0.6},{"G":1.82,"E":-0.6}],
"s3":[{"G":-1.531,"E":0.519},{"G":-1.094,"E":0.384},{"G":-0.554,"E":0.195},{"G":0.547,"E":-0.183},{"G":1.075,"E":-0.382},{"G":1.648,"E":-0.503}]
},
"columns":4,"align":"each","bounds":"flush","spacing":{"row":70,"column":80.5},
"resolve":{"scale":{"color":"independent"},"legend":{"color":"independent"}},
"concat":[
{"width":298,"height":175,"view":{"stroke":null},
"encoding":{"x":{"field":"x","type":"quantitative","scale":{"domain":[0,298]},"axis":null},"y":{"field":"y","type":"quantitative","scale":{"domain":[195.7,20.7]},"axis":null}},
"layer":[
{"data":{"name":"frames"},"mark":{"type":"rect","fill":"white","stroke":"#cccccc","strokeWidth":1},"encoding":{"x2":{"field":"x2"},"y2":{"field":"y2"}}},
{"data":{"name":"bbox"},"mark":{"type":"rule","color":"#cccccc","strokeWidth":1},"encoding":{"x2":{"field":"x2"},"y2":{"field":"y2"}}},
{"data":{"name":"front"},"mark":{"type":"rect","fill":{"gradient":"linear","x1":0,"x2":1,"y1":0,"y2":0,"stops":[{"offset":0,"color":"#e06a68"},{"offset":0.3,"color":"#bb908e"},{"offset":1,"color":"#7aaeac"}]}},"encoding":{"x2":{"field":"x2"},"y2":{"field":"y2"}}},
{"data":{"name":"left"},"mark":{"type":"area","orient":"vertical","fill":{"gradient":"linear","x1":0,"x2":1,"y1":0,"y2":0,"stops":[{"offset":0,"color":"#e84646"},{"offset":1,"color":"#cb5252"}]}},"encoding":{"y2":{"field":"y2"}}},
{"data":{"name":"top"},"mark":{"type":"area","orient":"vertical","fill":{"gradient":"linear","x1":0,"x2":1,"y1":0,"y2":0,"stops":[{"offset":0,"color":"#a84848"},{"offset":1,"color":"#2f8f92"}]}},"encoding":{"y2":{"field":"y2"}}},
{"data":{"name":"bottom"},"mark":{"type":"area","orient":"vertical","fill":{"gradient":"linear","x1":0,"x2":1,"y1":0,"y2":0,"stops":[{"offset":0,"color":"#e67c7c"},{"offset":1,"color":"#5fa8a8"}]}},"encoding":{"y2":{"field":"y2"}}},
{"data":{"name":"right"},"mark":{"type":"area","orient":"vertical","fill":"#2ab5b8"},"encoding":{"y2":{"field":"y2"}}},
{"data":{"name":"strip"},"mark":{"type":"rect","fill":{"gradient":"linear","x1":0,"x2":1,"y1":0,"y2":0,"stops":[{"offset":0,"color":"#d84a4c"},{"offset":1,"color":"#8a6668"}]}},"encoding":{"x2":{"field":"x2"},"y2":{"field":"y2"}}},
{"data":{"name":"edges"},"mark":{"type":"rule","color":"#3a3a3a","opacity":0.85,"strokeWidth":2.5},"encoding":{"x2":{"field":"x2"},"y2":{"field":"y2"}}},
{"data":{"name":"ewhite"},"mark":{"type":"area","orient":"vertical","interpolate":"monotone","fill":"#e2e2e2"},"encoding":{"y2":{"field":"y2"}}},
{"data":{"name":"egrey"},"mark":{"type":"area","orient":"vertical","interpolate":"monotone","fill":"#857f7d"},"encoding":{"y2":{"field":"y2"}}},
{"data":{"name":"wires"},"mark":{"type":"rule","color":"black","strokeWidth":2.7,"strokeCap":"square"},"encoding":{"x2":{"field":"x2"},"y2":{"field":"y2"}}},
{"data":{"name":"brack"},"mark":{"type":"rule","color":"black","strokeWidth":1.3},"encoding":{"x2":{"field":"x2"},"y2":{"field":"y2"}}},
{"data":{"name":"heads"},"mark":{"type":"area","orient":"vertical","fill":"black"},"encoding":{"y2":{"field":"y2"},"detail":{"field":"id"}}},
{"data":{"name":"rshaft"},"mark":{"type":"rect","fill":"#ee1c25"},"encoding":{"x2":{"field":"x2"},"y2":{"field":"y2"}}},
{"data":{"name":"rhead"},"mark":{"type":"area","orient":"vertical","fill":"#ee1c25"},"encoding":{"y2":{"field":"y2"}}},
{"data":{"name":"volt"},"mark":{"type":"point","shape":"circle","filled":true,"fill":"white","stroke":"black","strokeWidth":2.7,"size":2250,"opacity":1}},
{"data":{"name":"tital"},"mark":{"type":"text","font":"Liberation Sans","fontStyle":"italic","fontSize":20,"color":"#111","align":"center","baseline":"middle"},"encoding":{"text":{"field":"t"}}},
{"data":{"name":"tsub"},"mark":{"type":"text","font":"Liberation Sans","fontSize":11,"color":"#111","align":"center","baseline":"middle"},"encoding":{"text":{"field":"t"}}},
{"data":{"name":"tsign"},"mark":{"type":"text","font":"Liberation Sans","fontSize":27,"color":"#111","align":"center","baseline":"middle"},"encoding":{"text":{"field":"t"}}},
{"data":{"name":"tlab"},"mark":{"type":"text","font":"Liberation Sans","fontSize":31,"color":"#111","align":"left","baseline":"alphabetic"},"encoding":{"text":{"field":"t"}}}
]},
{"width":266,"height":175,"title":{"text":"zero-field annealed","color":"#ff7f0e"},
"layer":[
{"data":{"name":"zero"},"mark":{"type":"rule","color":"#555","strokeWidth":1},"encoding":{"y":{"field":"z","type":"quantitative","scale":{"domain":[-3,3]}}}},
{"data":{"name":"zero"},"mark":{"type":"rule","color":"#555","strokeWidth":1},"encoding":{"x":{"field":"z","type":"quantitative","scale":{"domain":[-1,1]}}}},
{"data":{"name":"d1"},"mark":{"type":"line","interpolate":"monotone","strokeWidth":3.5,"opacity":0.95},"encoding":{"x":{"field":"H","type":"quantitative","scale":{"domain":[-1,1]},"axis":{"title":"μ₀H (T)","values":[-1,-0.5,0,0.5,1],"format":".1f","labelOverlap":false}},"y":{"field":"V","type":"quantitative","scale":{"domain":[-3,3]},"axis":{"title":null,"values":[-3,-2,-1,0,1,2,3],"format":"d","labelOverlap":false,"tickCount":7}},"color":{"field":"T","type":"nominal","sort":null,"scale":{"domain":["1.4 K","0.76 K","0.36 K"],"range":["#ff0000","#c0178f","#8a2be2"]},"legend":{"title":null,"orient":"none","legendX":174.5,"legendY":6,"symbolType":"stroke","symbolSize":784,"symbolStrokeWidth":3.5,"clipHeight":18.3,"rowPadding":0,"labelOffset":8,"fillColor":"white","strokeColor":"#cccccc","cornerRadius":3,"padding":3}},"detail":{"field":"b"}}},
{"data":{"name":"dots1"},"mark":{"type":"point","shape":"circle","filled":true,"color":"black","size":49,"opacity":1},"encoding":{"x":{"field":"H","type":"quantitative","scale":{"domain":[-1,1]}},"y":{"field":"V","type":"quantitative","scale":{"domain":[-3,3]}}}},
{"data":{"name":"zero"},"mark":{"type":"text","fontStyle":"italic","fontSize":18,"angle":270,"dx":-33,"dy":-41.5,"baseline":"middle","color":"#262626"},"encoding":{"x":{"datum":-1,"scale":{"domain":[-1,1]}},"y":{"datum":0,"scale":{"domain":[-3,3]}},"text":{"value":"V"}}},
{"data":{"name":"zero"},"mark":{"type":"text","fontSize":10.5,"angle":270,"dx":-14,"dy":-36,"baseline":"middle","color":"#262626"},"encoding":{"x":{"datum":-1,"scale":{"domain":[-1,1]}},"y":{"datum":0,"scale":{"domain":[-3,3]}},"text":{"value":"ANE"}}},
{"data":{"name":"zero"},"mark":{"type":"text","fontSize":16,"angle":270,"dx":19,"dy":-41.5,"baseline":"middle","color":"#262626"},"encoding":{"x":{"datum":-1,"scale":{"domain":[-1,1]}},"y":{"datum":0,"scale":{"domain":[-3,3]}},"text":{"value":"(μV)"}}}
]},
{"width":266,"height":175,"title":{"text":"field annealed","color":"#1f77b4"},
"layer":[
{"data":{"name":"zero"},"mark":{"type":"rule","color":"#555","strokeWidth":1},"encoding":{"y":{"field":"z","type":"quantitative","scale":{"domain":[-6,6]}}}},
{"data":{"name":"zero"},"mark":{"type":"rule","color":"#999","strokeWidth":1.5},"encoding":{"x":{"field":"z","type":"quantitative","scale":{"domain":[-1,1]}}}},
{"data":{"name":"d2"},"mark":{"type":"line","interpolate":"monotone","strokeWidth":3.5,"opacity":0.95},"encoding":{"x":{"field":"H","type":"quantitative","scale":{"domain":[-1,1]},"axis":{"title":"μ₀H (T)","values":[-1,-0.5,0,0.5,1],"format":".1f","labelOverlap":false}},"y":{"field":"V","type":"quantitative","scale":{"domain":[-6,6]},"axis":{"title":null,"values":[-6,-4,-2,0,2,4,6],"format":"d","labelOverlap":false,"tickCount":7}},"color":{"field":"T","type":"nominal","sort":null,"scale":{"domain":["1.0 K","0.57 K","0.24 K"],"range":["#ff0000","#c0178f","#8a2be2"]},"legend":{"title":null,"orient":"none","legendX":174.8,"legendY":6,"symbolType":"stroke","symbolSize":784,"symbolStrokeWidth":3.5,"clipHeight":18.3,"rowPadding":0,"labelOffset":8,"fillColor":"white","strokeColor":"#cccccc","cornerRadius":3,"padding":3}},"detail":{"field":"b"}}},
{"data":{"name":"dots2"},"mark":{"type":"point","shape":"circle","filled":true,"color":"black","size":49,"opacity":1},"encoding":{"x":{"field":"H","type":"quantitative","scale":{"domain":[-1,1]}},"y":{"field":"V","type":"quantitative","scale":{"domain":[-6,6]}}}}
]},
{"width":266,"height":175,"title":{"text":"milled","color":"#2ca02c"},
"layer":[
{"data":{"name":"zero"},"mark":{"type":"rule","color":"#555","strokeWidth":1},"encoding":{"y":{"field":"z","type":"quantitative","scale":{"domain":[-4,4]}}}},
{"data":{"name":"zero"},"mark":{"type":"rule","color":"#555","strokeWidth":1},"encoding":{"x":{"field":"z","type":"quantitative","scale":{"domain":[-1,1]}}}},
{"data":{"name":"d3"},"mark":{"type":"line","interpolate":"monotone","strokeWidth":3.5,"opacity":0.95},"encoding":{"x":{"field":"H","type":"quantitative","scale":{"domain":[-1,1]},"axis":{"title":"μ₀H (T)","values":[-1,-0.5,0,0.5,1],"format":".1f","labelOverlap":false}},"y":{"field":"V","type":"quantitative","scale":{"domain":[-4,4]},"axis":{"title":null,"values":[-4,-2,0,2,4],"format":"d","labelOverlap":false}},"color":{"field":"T","type":"nominal","sort":null,"scale":{"domain":["1.6 K","1.0 K","0.5 K"],"range":["#ff0000","#c0178f","#8a2be2"]},"legend":{"title":null,"orient":"none","legendX":6,"legendY":107.7,"symbolType":"stroke","symbolSize":784,"symbolStrokeWidth":3.5,"clipHeight":18.3,"rowPadding":0,"labelOffset":8,"fillColor":"#ffffffcc","strokeColor":"#cccccc","cornerRadius":3,"padding":3}},"detail":{"field":"b"}}},
{"data":{"name":"dots3"},"mark":{"type":"point","shape":"circle","filled":true,"color":"black","size":49,"opacity":1},"encoding":{"x":{"field":"H","type":"quantitative","scale":{"domain":[-1,1]}},"y":{"field":"V","type":"quantitative","scale":{"domain":[-4,4]}}}}
]},
{"width":298,"height":175,"view":{"stroke":null},"data":{"name":"zero"},"mark":{"type":"rule","opacity":0},"encoding":{}},
{"width":266,"height":175,
"layer":[
{"data":{"name":"zero"},"mark":{"type":"rule","color":"#555","strokeWidth":1},"encoding":{"y":{"field":"z","type":"quantitative","scale":{"domain":[-0.6,0.6]}}}},
{"data":{"name":"zero"},"mark":{"type":"rule","color":"#555","strokeWidth":1},"encoding":{"x":{"field":"z","type":"quantitative","scale":{"domain":[-2,2]}}}},
{"data":{"name":"f1"},"mark":{"type":"line","color":"#ff7f0e","strokeWidth":3.5,"clip":true},"encoding":{"x":{"field":"G","type":"quantitative","scale":{"domain":[-2,2]},"axis":{"title":"∇T (K/m)","titleFontSize":17,"titlePadding":7,"values":[-2,-1,0,1,2],"format":"d"}},"y":{"field":"E","type":"quantitative","scale":{"domain":[-0.6,0.6]},"axis":{"title":null,"values":[-0.6,-0.3,0,0.3,0.6],"format":".1f"}}}},
{"data":{"name":"s1"},"mark":{"type":"point","shape":"circle","filled":true,"color":"#ff7f0e","size":110,"opacity":1,"clip":true},"encoding":{"x":{"field":"G","type":"quantitative","scale":{"domain":[-2,2]}},"y":{"field":"E","type":"quantitative","scale":{"domain":[-0.6,0.6]}}}},
{"data":{"name":"zero"},"mark":{"type":"text","fontSize":20.5,"align":"right","baseline":"middle","dx":-3,"dy":23,"color":"#ff7f0e"},"encoding":{"x":{"datum":2,"scale":{"domain":[-2,2]}},"y":{"datum":0.6,"scale":{"domain":[-0.6,0.6]}},"text":{"value":"-3.0 E-7 V/K"}}},
{"data":{"name":"zero"},"mark":{"type":"text","fontStyle":"italic","fontSize":18,"angle":270,"dx":-43,"dy":-53,"baseline":"middle","color":"#262626"},"encoding":{"x":{"datum":-2,"scale":{"domain":[-2,2]}},"y":{"datum":0,"scale":{"domain":[-0.6,0.6]}},"text":{"value":"V"}}},
{"data":{"name":"zero"},"mark":{"type":"text","fontSize":10.5,"angle":270,"dx":-28,"dy":-49.5,"baseline":"middle","color":"#262626"},"encoding":{"x":{"datum":-2,"scale":{"domain":[-2,2]}},"y":{"datum":0,"scale":{"domain":[-0.6,0.6]}},"text":{"value":"ANE"}}},
{"data":{"name":"zero"},"mark":{"type":"text","fontStyle":"italic","fontSize":15,"angle":270,"dx":-13,"dy":-53,"baseline":"middle","color":"#262626"},"encoding":{"x":{"datum":-2,"scale":{"domain":[-2,2]}},"y":{"datum":0,"scale":{"domain":[-0.6,0.6]}},"text":{"value":"/L"}}},
{"data":{"name":"zero"},"mark":{"type":"text","fontSize":10.5,"angle":270,"dx":-4,"dy":-49.5,"baseline":"middle","color":"#262626"},"encoding":{"x":{"datum":-2,"scale":{"domain":[-2,2]}},"y":{"datum":0,"scale":{"domain":[-0.6,0.6]}},"text":{"value":"y"}}},
{"data":{"name":"zero"},"mark":{"type":"text","fontSize":15.5,"angle":270,"dx":29.5,"dy":-53,"baseline":"middle","color":"#262626"},"encoding":{"x":{"datum":-2,"scale":{"domain":[-2,2]}},"y":{"datum":0,"scale":{"domain":[-0.6,0.6]}},"text":{"value":"(μV/m)"}}}
]},
{"width":266,"height":175,
"layer":[
{"data":{"name":"zero"},"mark":{"type":"rule","color":"#555","strokeWidth":1},"encoding":{"y":{"field":"z","type":"quantitative","scale":{"domain":[-0.6,0.6]}}}},
{"data":{"name":"zero"},"mark":{"type":"rule","color":"#999","strokeWidth":1.5},"encoding":{"x":{"field":"z","type":"quantitative","scale":{"domain":[-2,2]}}}},
{"data":{"name":"f2"},"mark":{"type":"line","color":"#1f77b4","strokeWidth":3.5,"clip":true},"encoding":{"x":{"field":"G","type":"quantitative","scale":{"domain":[-2,2]},"axis":{"title":"∇T (K/m)","titleFontSize":17,"titlePadding":7,"values":[-2,-1,0,1,2],"format":"d"}},"y":{"field":"E","type":"quantitative","scale":{"domain":[-0.6,0.6]},"axis":{"title":null,"values":[-0.6,-0.3,0,0.3,0.6],"format":".1f"}}}},
{"data":{"name":"s2"},"mark":{"type":"point","shape":"circle","filled":true,"color":"#1f77b4","size":110,"opacity":1,"clip":true},"encoding":{"x":{"field":"G","type":"quantitative","scale":{"domain":[-2,2]}},"y":{"field":"E","type":"quantitative","scale":{"domain":[-0.6,0.6]}}}},
{"data":{"name":"zero"},"mark":{"type":"text","fontSize":20.5,"align":"right","baseline":"middle","dx":-3,"dy":23,"color":"#1f77b4"},"encoding":{"x":{"datum":2,"scale":{"domain":[-2,2]}},"y":{"datum":0.6,"scale":{"domain":[-0.6,0.6]}},"text":{"value":"-5.8 E-7 V/K"}}}
]},
{"width":266,"height":175,
"layer":[
{"data":{"name":"zero"},"mark":{"type":"rule","color":"#555","strokeWidth":1},"encoding":{"y":{"field":"z","type":"quantitative","scale":{"domain":[-0.6,0.6]}}}},
{"data":{"name":"zero"},"mark":{"type":"rule","color":"#555","strokeWidth":1},"encoding":{"x":{"field":"z","type":"quantitative","scale":{"domain":[-2,2]}}}},
{"data":{"name":"f3"},"mark":{"type":"line","color":"#2ca02c","strokeWidth":3.5,"clip":true},"encoding":{"x":{"field":"G","type":"quantitative","scale":{"domain":[-2,2]},"axis":{"title":"∇T (K/m)","titleFontSize":17,"titlePadding":7,"values":[-2,-1,0,1,2],"format":"d"}},"y":{"field":"E","type":"quantitative","scale":{"domain":[-0.6,0.6]},"axis":{"title":null,"values":[-0.6,-0.3,0,0.3,0.6],"format":".1f"}}}},
{"data":{"name":"s3"},"mark":{"type":"point","shape":"circle","filled":true,"color":"#2ca02c","size":110,"opacity":1,"clip":true},"encoding":{"x":{"field":"G","type":"quantitative","scale":{"domain":[-2,2]}},"y":{"field":"E","type":"quantitative","scale":{"domain":[-0.6,0.6]}}}},
{"data":{"name":"zero"},"mark":{"type":"text","fontSize":20.5,"align":"right","baseline":"middle","dx":-3,"dy":23,"color":"#2ca02c"},"encoding":{"x":{"datum":2,"scale":{"domain":[-2,2]}},"y":{"datum":0.6,"scale":{"domain":[-0.6,0.6]}},"text":{"value":"-3.3 E-7 V/K"}}}
]}
]}
